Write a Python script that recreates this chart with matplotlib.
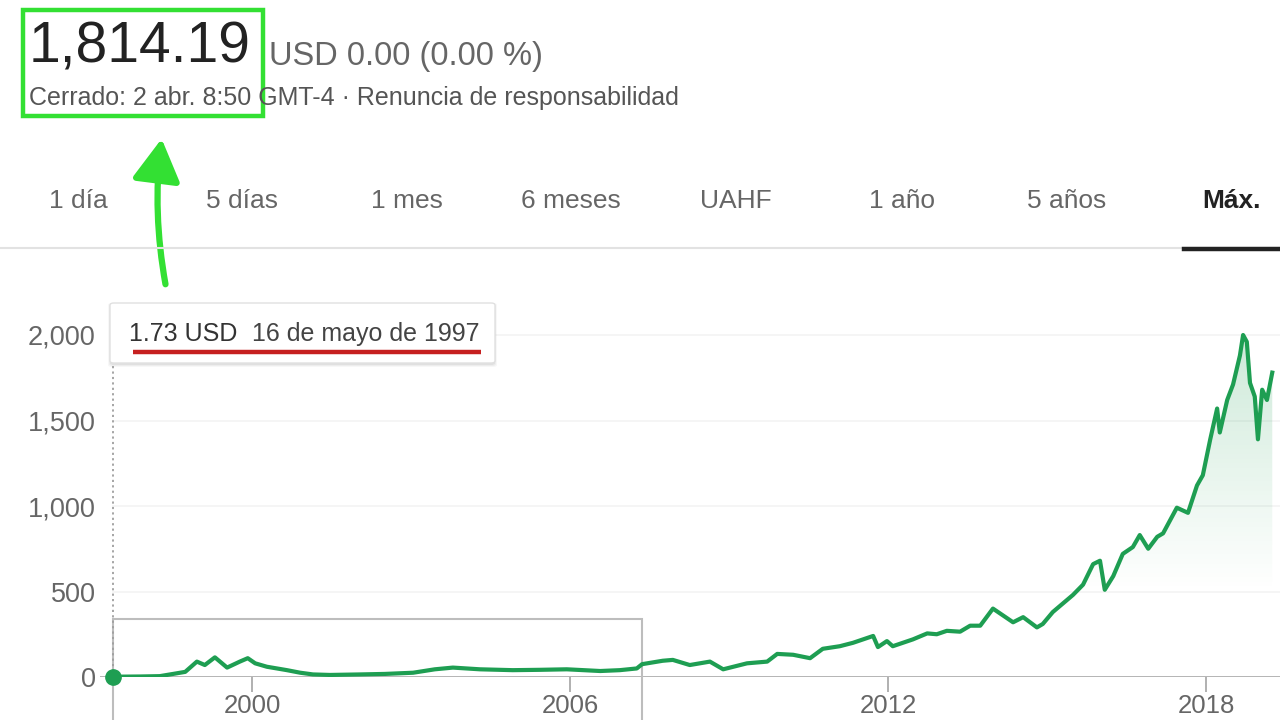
import numpy as np
import matplotlib
matplotlib.use("Agg")
import matplotlib.pyplot as plt
from matplotlib.patches import Rectangle, FancyBboxPatch, FancyArrowPatch
from matplotlib.lines import Line2D

plt.rcParams['font.family'] = ['Liberation Sans', 'DejaVu Sans']

# ---------------- data ----------------
years = [1997.38, 1997.89, 1998.26, 1998.55, 1998.74, 1998.96, 1999.11, 1999.30,
         1999.53, 1999.77, 1999.92, 2000.06, 2000.28, 2000.66, 2000.91, 2001.15,
         2001.47, 2002.04, 2002.51, 2003.04, 2003.45, 2003.79, 2004.30, 2004.92,
         2005.43, 2005.94, 2006.57, 2006.94, 2007.26, 2007.36, 2007.75, 2007.94,
         2008.26, 2008.64, 2008.89, 2009.34, 2009.72, 2009.91, 2010.21, 2010.53,
         2010.77, 2011.09, 2011.34, 2011.72, 2011.81, 2011.98, 2012.09, 2012.47,
         2012.74, 2012.92, 2013.11, 2013.36, 2013.55, 2013.74, 2013.98, 2014.17,
         2014.36, 2014.55, 2014.81, 2014.92, 2015.11, 2015.30, 2015.49, 2015.68,
         2015.87, 2016.00, 2016.09, 2016.25, 2016.43, 2016.62, 2016.75, 2016.91,
         2017.08, 2017.19, 2017.45, 2017.66, 2017.83, 2017.94, 2018.08, 2018.21,
         2018.26, 2018.40, 2018.51, 2018.64, 2018.70, 2018.77, 2018.83, 2018.92,
         2018.98, 2019.06, 2019.15, 2019.25]
prices = [1.73, 3, 5, 20, 30, 90, 70, 115,
          55, 90, 110, 80, 60, 40, 25, 15,
          12, 15, 18, 25, 45, 55, 45, 40,
          42, 45, 35, 40, 50, 75, 95, 100,
          70, 90, 45, 80, 90, 135, 130, 110,
          165, 180, 200, 240, 175, 210, 180, 220,
          255, 250, 270, 265, 300, 300, 400, 360,
          320, 350, 290, 310, 380, 430, 480, 540,
          660, 680, 510, 590, 720, 760, 830, 750,
          820, 840, 990, 960, 1120, 1180, 1390, 1570,
          1430, 1620, 1710, 1880, 2000, 1960, 1720, 1640,
          1390, 1680, 1620, 1780]

y_ticks = [0, 500, 1000, 1500, 2000]
y_tick_labels = ["0", "500", "1,000", "1,500", "2,000"]
x_ticks = [2000, 2006, 2012, 2018]
x_tick_labels = ["2000", "2006", "2012", "2018"]
tabs = ["1 día", "5 días", "1 mes", "6 meses", "UAHF", "1 año", "5 años", "Máx."]

price_text = "1,814.19"
change_text = "USD 0.00 (0.00 %)"
sub_text = "Cerrado: 2 abr. 8:50 GMT-4 · Renuncia de responsabilidad"
tip_value = "1.73 USD"
tip_date = "16 de mayo de 1997"
selection_end = 2007.36

# ---------------- figure ----------------
W, H = 1280, 720
fig = plt.figure(figsize=(12.8, 7.2), dpi=100)
fig.patch.set_facecolor("white")

def fx(x):
    return x / W

def fy(y):
    return 1 - y / H

GREEN_UI = "#33e033"
LINE_GREEN = "#1e9e52"

# header texts
fig.text(fx(29), fy(47), price_text, fontsize=41, color="#222222",
         va="center", ha="left")
fig.text(fx(269), fy(57), change_text, fontsize=23.5, color="#666666",
         va="center", ha="left")
fig.text(fx(29), fy(98), sub_text, fontsize=18, color="#555555",
         va="center", ha="left")

# green highlight box
fig.patches.append(Rectangle((fx(23), fy(116)), fx(240), 106 / H, fill=False,
                             edgecolor=GREEN_UI, linewidth=3.2,
                             transform=fig.transFigure))

# green arrow
arrow = FancyArrowPatch((fx(166), fy(287)), (fx(162), fy(136)),
                        transform=fig.transFigure,
                        connectionstyle="arc3,rad=-0.08",
                        arrowstyle="-|>,head_length=2.7,head_width=1.55",
                        color=GREEN_UI, linewidth=4.5, mutation_scale=9.5)
fig.patches.append(arrow)

# tab row
tab_x = [78, 242, 407, 571, 736, 902, 1067, 1232]
for t, x in zip(tabs, tab_x):
    sel = t == tabs[-1]
    fig.text(fx(x), fy(201), t, fontsize=19,
             color="#222222" if sel else "#666666",
             fontweight="bold" if sel else "normal",
             ha="center", va="center")
fig.lines.append(Line2D([0, 1], [fy(248), fy(248)], transform=fig.transFigure,
                        color="#e2e2e2", linewidth=1.5))
fig.lines.append(Line2D([fx(1184), 1], [fy(248.5), fy(248.5)],
                        transform=fig.transFigure, color="#222222", linewidth=3.2))

# ---------------- chart axes ----------------
px_per_unit = (677 - 335) / 2000.0
ax = fig.add_axes([fx(100), fy(677), fx(1180), (677 - 300) / H])
XLIM = (2000 + (100 - 252) / 53.0, 2000 + (1280 - 252) / 53.0)
YLIM = (0, (677 - 300) / px_per_unit)
for s in ax.spines.values():
    s.set_visible(False)
ax.set_facecolor("none")

# faint grid
for v in y_ticks[1:]:
    ax.axhline(v, xmin=(13 / 1180), color="#f3f3f3", linewidth=1.2, zorder=0)

ax.set_yticks(y_ticks)
ax.set_yticklabels(y_tick_labels)
ax.set_xticks(x_ticks)
ax.set_xticklabels(x_tick_labels)
ax.tick_params(axis="y", length=0, pad=3, labelsize=19.5, labelcolor="#666666")
ax.tick_params(axis="x", length=11, width=1.3, color="#aaaaaa", pad=1,
               labelsize=18.5, labelcolor="#666666")

# gradient fill under line
xs = np.array(years)
ys = np.array(prices)
poly = ax.fill_between(xs, ys, 0, color="none", linewidth=0)
ny = 300
vals = np.linspace(0, 2200, ny)
alpha = np.clip((vals - 500) / 1500.0, 0, 1) * 0.22
img = np.zeros((ny, 2, 4))
img[..., 0] = 0.12
img[..., 1] = 0.62
img[..., 2] = 0.32
img[..., 3] = alpha[:, None]
im = ax.imshow(img, extent=[xs.min(), xs.max(), 0, 2200], origin="lower",
               aspect="auto", zorder=1, interpolation="bilinear")
im.set_clip_path(poly.get_paths()[0], transform=ax.transData)
ax.set_xlim(*XLIM)
ax.set_ylim(*YLIM)

# zero line
ax.axhline(0, color="#9e9e9e", linewidth=1.8, zorder=2)

# selection rectangle
ax.add_patch(Rectangle((years[0], -400), selection_end - years[0],
                       400 + (677 - 619) / px_per_unit, fill=False,
                       edgecolor="#bdbdbd", linewidth=1.5, clip_on=False, zorder=2))

# dotted hover line
ax.plot([years[0], years[0]], [0, (677 - 364) / px_per_unit], color="#9e9e9e",
        linestyle=(0, (1.2, 1.8)), linewidth=1.3, zorder=2, clip_on=False)

# price line
ax.plot(xs, ys, color=LINE_GREEN, linewidth=3.0, zorder=3,
        solid_joinstyle="round")
ax.plot([years[0]], [prices[0]], "o", color=LINE_GREEN, markersize=11,
        zorder=4, clip_on=False)

# tooltip
for i, a in enumerate([0.05, 0.04, 0.03]):
    fig.patches.append(FancyBboxPatch((fx(110 - i), fy(364 + i + 1)),
                                      fx(385 + 2 * i), (60 + 2 * i) / H,
                                      boxstyle="round,pad=0,rounding_size=0.003",
                                      facecolor="black", alpha=a, edgecolor="none",
                                      transform=fig.transFigure))
fig.patches.append(FancyBboxPatch((fx(110), fy(363)), fx(385), 60 / H,
                                  boxstyle="round,pad=0,rounding_size=0.003",
                                  facecolor="white", edgecolor="#e0e0e0",
                                  linewidth=1, transform=fig.transFigure))
fig.text(fx(129), fy(334), tip_value, fontsize=18, color="#333333",
         ha="left", va="center")
fig.text(fx(252), fy(334), tip_date, fontsize=18, color="#444444",
         ha="left", va="center")
fig.lines.append(Line2D([fx(133), fx(481)], [fy(352), fy(352)],
                        transform=fig.transFigure, color="#c62020",
                        linewidth=3.2, solid_capstyle="butt"))

fig.savefig("out.png", dpi=100)
